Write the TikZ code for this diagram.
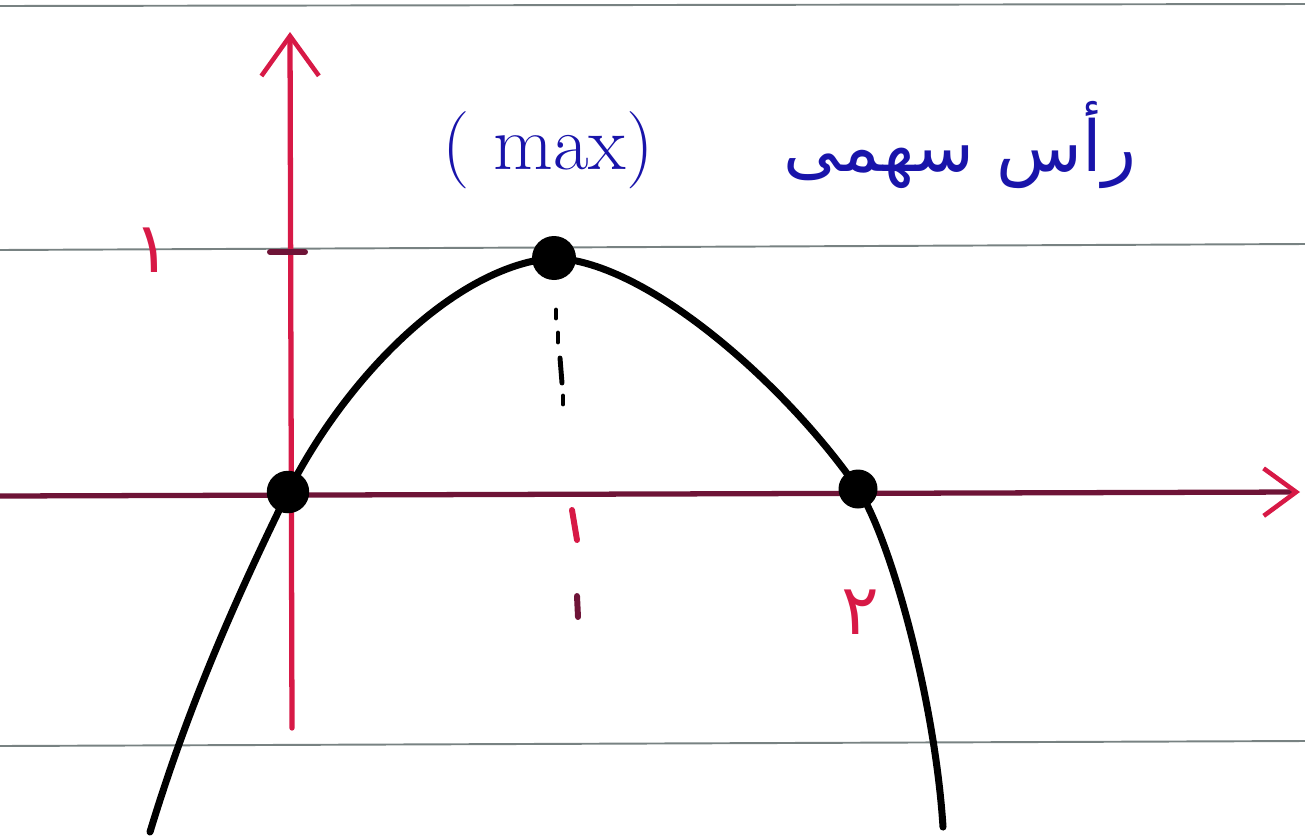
\documentclass[tikz,border=0pt]{standalone}
\usepackage{fontspec}
\newfontfamily\arabicfont[Script=Arabic]{DejaVu Sans}
\TeXXeTstate=1
\usetikzlibrary{arrows.meta}
\definecolor{penred}{RGB}{215,25,70}
\definecolor{axisdark}{RGB}{110,20,55}
\definecolor{penblue}{RGB}{25,20,170}
\definecolor{rulegray}{RGB}{120,130,130}
\tikzset{
  rule/.style={draw=rulegray, line width=1.1pt},
  yaxis/.style={draw=penred, line width=3pt, line cap=round,
    -{Straight Barb[length=0.8cm,width=1.15cm,line width=2.6pt]}},
  xaxis/.style={draw=axisdark, line width=3pt, line cap=round,
    -{Straight Barb[length=0.65cm,width=0.95cm,line width=2.6pt,color=penred]}},
  curve/.style={draw=black, line width=4pt, line cap=round, line join=round},
  dot/.style={circle, fill=black, inner sep=0pt},
  lbl/.style={text=penred, font=\arabicfont\fontsize{40}{44}\selectfont},
  redmark/.style={draw=penred, line width=3.4pt, line cap=round},
  dashmark/.style={draw=black, line width=2.8pt, line cap=round},
  note/.style={text=penblue, inner sep=0pt}
}
\begin{document}
\begin{tikzpicture}[x=0.02cm, y=-0.02cm]
\useasboundingbox (0,0) rectangle (1305,839);
% ruled paper lines
\draw[rule] (0,6) -- (1305,4);
\draw[rule] (0,250) -- (1305,244);
\draw[rule] (0,746) -- (1305,741);
% axes
\coordinate (ybot) at (292,728);
\coordinate (ytop) at (290,32);
\coordinate (xleft) at (0,496);
\coordinate (xright) at (1300,492);
\draw[xaxis] (xleft) -- (xright);
\draw[yaxis] (ybot) -- (ytop);
% tick on y-axis at y=1
\coordinate (tk1) at (270,252);
\coordinate (tk2) at (305,252);
\draw[draw=axisdark, line width=3.4pt, line cap=round] (tk1) -- (tk2);
% dots
\node[dot, minimum size=0.85cm] (o) at (288,492) {};
\node[dot, minimum size=0.88cm] (v) at (554,258) {};
\node[dot, minimum size=0.78cm] (r) at (858,489) {};
% parabola
\coordinate (pl) at (150,832);
\coordinate (pr) at (943,827);
\draw[curve] (pl) .. controls (190,700) and (240,590) .. (o.center)
  .. controls (350,370) and (460,265) .. (v.center)
  .. controls (650,262) and (790,390) .. (r.center)
  .. controls (890,537) and (935,700) .. (pr);
% dashed drop from vertex
\coordinate (d1a) at (556,310); \coordinate (d1b) at (556,318);
\coordinate (d2a) at (558,333); \coordinate (d2b) at (558,342);
\coordinate (d3a) at (560,358); \coordinate (d3b) at (562,383);
\coordinate (d4a) at (563,396); \coordinate (d4b) at (563,404);
\draw[dashmark] (d1a) -- (d1b);
\draw[dashmark] (d2a) -- (d2b);
\draw[dashmark] (d3a) -- (d3b);
\draw[dashmark] (d4a) -- (d4b);
% marks below x=1
\coordinate (m1a) at (572,510); \coordinate (m1b) at (577,540);
\draw[redmark] (m1a) -- (m1b);
\coordinate (m2a) at (577,596); \coordinate (m2b) at (578,617);
\draw[redmark, draw=axisdark] (m2a) -- (m2b);
% labels
\node[lbl] (one) at (152,250) {۱};
\node[lbl] (two) at (860,612) {۲};
% title
\node[note, font=\arabicfont\fontsize{40}{46}\selectfont] (fa) at (960,145) {\beginR رأس سهمی\endR};
\node[note, font=\fontsize{44}{50}\selectfont] (mx) at (548,150) {( max)};
\end{tikzpicture}
\end{document}
